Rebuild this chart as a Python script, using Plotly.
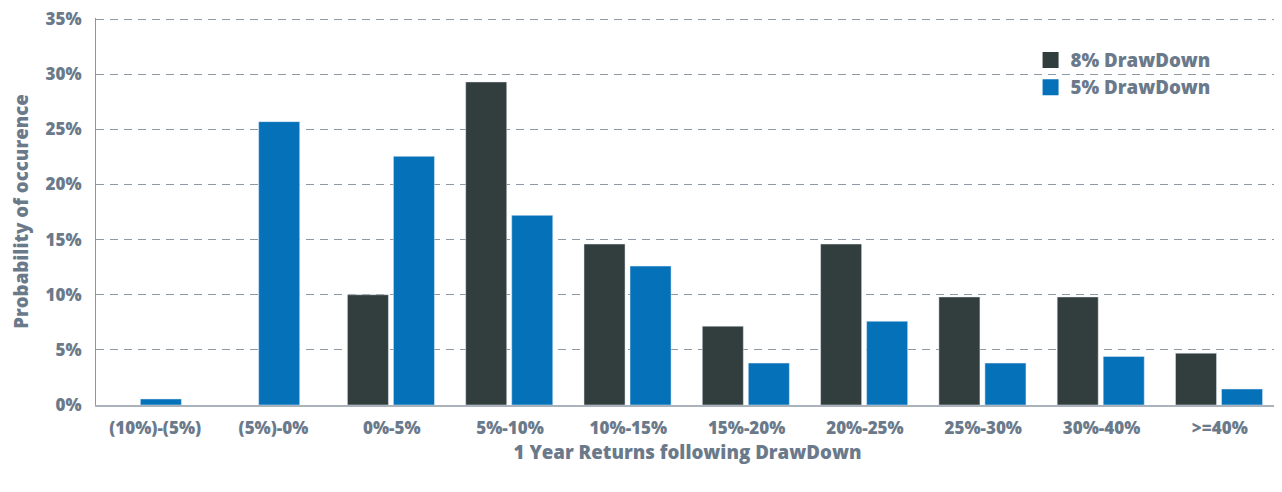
import plotly.graph_objects as go

categories = ["(10%)-(5%)", "(5%)-0%", "0%-5%", "5%-10%", "10%-15%",
              "15%-20%", "20%-25%", "25%-30%", "30%-40%", ">=40%"]
dd8 = [None, None, 10.0, 29.3, 14.6, 7.15, 14.6, 9.8, 9.8, 4.7]
dd5 = [0.55, 25.7, 22.55, 17.2, 12.6, 3.8, 7.6, 3.8, 4.4, 1.45]
series_names = ["8% DrawDown", "5% DrawDown"]

DARK = "#323d3e"
BLUE = "#0571b9"
TEXT = "#6b7a8b"
GRID = "#8e99a5"
FONT = "Open Sans"
W = 800

bar_w = 0.347
off8 = -0.375
off5 = [(-0.125 if v is None else 0.014) for v in dd8]

fig = go.Figure()
fig.add_trace(go.Bar(x=categories, y=dd8, marker_color=DARK, width=bar_w,
                     offset=off8, showlegend=False, name=series_names[0]))
fig.add_trace(go.Bar(x=categories, y=dd5, marker_color=BLUE, width=bar_w,
                     offset=off5, showlegend=False, name=series_names[1]))
# legend entries
for nm, col in zip(series_names, [DARK, BLUE]):
    fig.add_trace(go.Scatter(x=[None], y=[None], mode="markers", name=nm,
                             marker=dict(symbol="square", size=16, color=col)))

fig.update_layout(
    width=1274, height=484,
    margin=dict(l=88, r=3, t=10, b=87),
    paper_bgcolor="white", plot_bgcolor="white",
    barmode="overlay",
    font=dict(family=FONT, color=TEXT, size=16, weight=W),
    legend=dict(x=0.79, y=0.94, xanchor="left", yanchor="top",
                bgcolor="rgba(0,0,0,0)", font=dict(size=18.7, color=TEXT, weight=W),
                itemsizing="trace"),
    shapes=[dict(type="line", xref="paper", yref="paper", x0=1, x1=1, y0=0, y1=1,
                 line=dict(color="#c5cad0", width=1))],
)
fig.update_xaxes(
    range=[-0.5, 9.5], showgrid=False, showline=True, linecolor="#aab2bb", linewidth=2,
    ticks="", ticklabelstandoff=7, tickfont=dict(size=17, color=TEXT, weight=W),
    title=dict(text="1 Year Returns following DrawDown", standoff=8,
               font=dict(size=18.7, color=TEXT, weight=W)),
    automargin=False,
)
fig.update_yaxes(
    range=[0, 35.1], tick0=0, dtick=5, ticksuffix="%", ticklabeloverflow="allow",
    showgrid=True, gridcolor=GRID,
    griddash="8px,6px", gridwidth=1, zeroline=False,
    showline=True, linecolor="#8a97a6", linewidth=1,
    ticks="", ticklabelstandoff=10,
    tickfont=dict(size=17, color=TEXT, weight=W),
    title=dict(text="Probability of occurence", standoff=27,
               font=dict(size=18.7, color=TEXT, weight=W)),
    automargin=False,
)

fig.write_html("out.html")
